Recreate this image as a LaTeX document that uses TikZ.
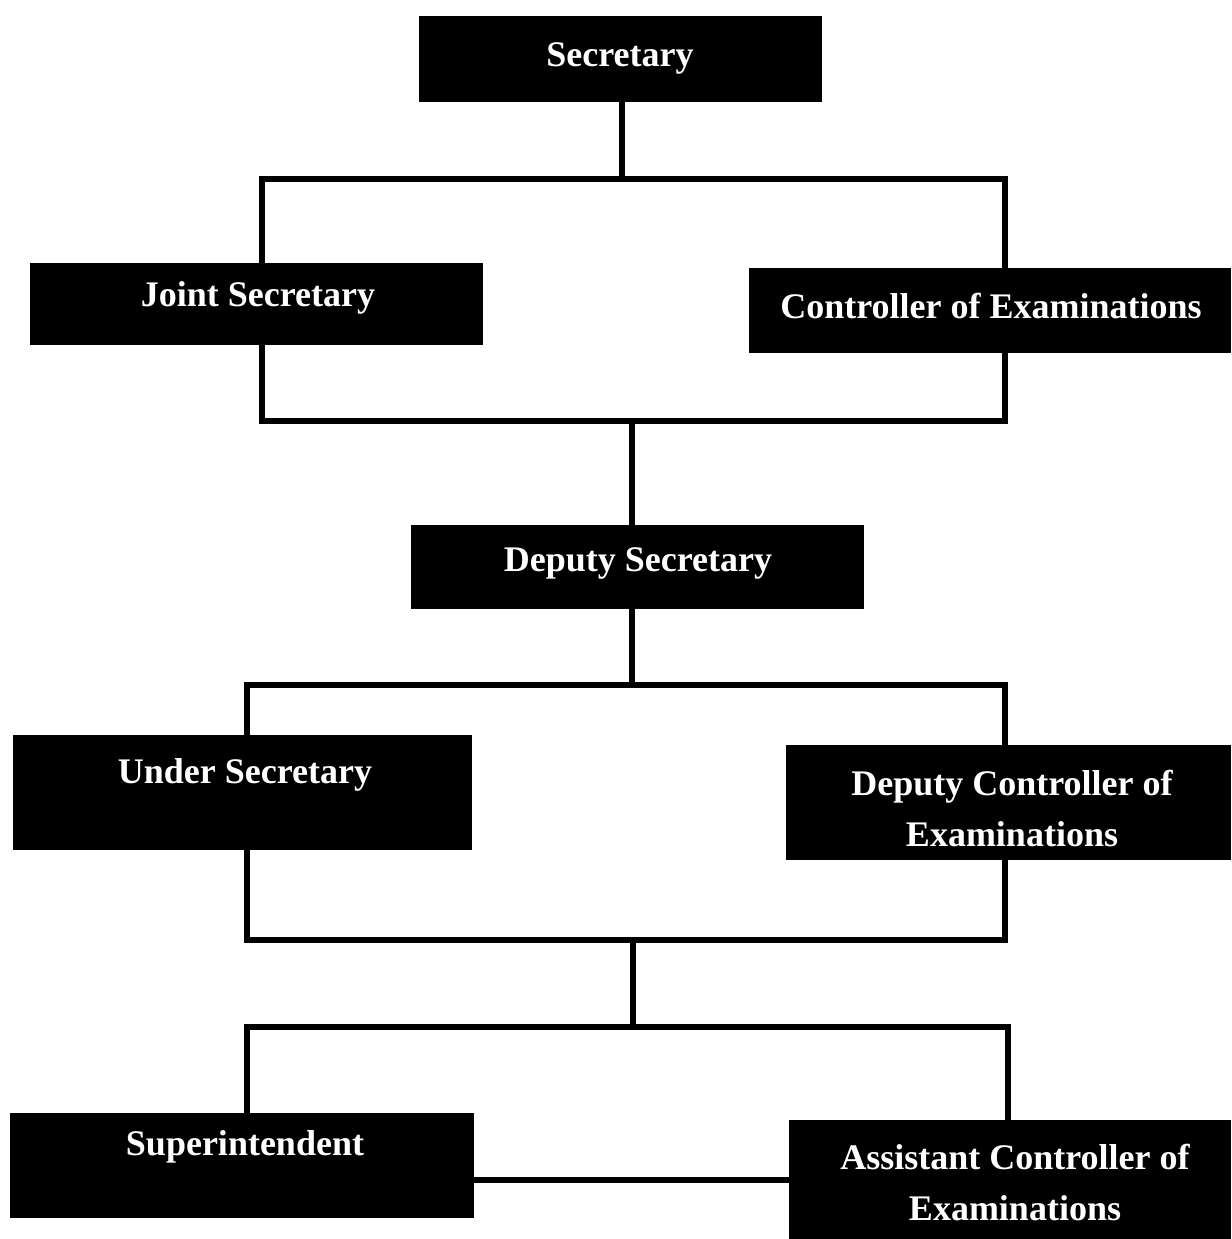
\documentclass[tikz,border=0pt]{standalone}
\usepackage{fontspec}
\setmainfont{Liberation Serif}
\begin{document}
\begin{tikzpicture}[x=1pt,y=-1pt,
  box/.style={fill=black,draw=none,inner sep=0pt},
  lbl/.style={text=white,font=\bfseries\fontsize{36}{51}\selectfont,align=center,inner sep=0pt},
  conn/.style={line width=5.5pt,draw=black,line cap=rect}]
\useasboundingbox (0,0) rectangle (1231,1239);
\fill[white] (0,0) rectangle (1231,1239);
% connector coordinates
\coordinate (l1tl) at (262,179);
\coordinate (l1br) at (1005,421);
\coordinate (l1top) at (622,179);
\coordinate (l1bot) at (632,421);
\coordinate (l2tl) at (247,685);
\coordinate (l2br) at (1005,940);
\coordinate (l2top) at (632,685);
\coordinate (l2bot) at (633,940);
\coordinate (l3top) at (633,1027);
\coordinate (l3l) at (247,1027);
\coordinate (l3r) at (1008,1027);
% connectors
\draw[conn] (l1tl) rectangle (l1br);
\draw[conn] (l2tl) rectangle (l2br);
\draw[conn] (l2bot) -- (l3top);
\draw[conn] (247,1120) -- (l3l) -- (l3r) -- (1008,1125);
% boxes
\node[box,minimum width=403pt,minimum height=86pt] (sec) at (620.5,59) {};
\node[box,minimum width=453pt,minimum height=82pt] (js) at (256.5,304) {};
\node[box,minimum width=482pt,minimum height=85pt] (coe) at (990,310.5) {};
\node[box,minimum width=453pt,minimum height=84pt] (ds) at (637.5,567) {};
\node[box,minimum width=459pt,minimum height=115pt] (us) at (242.5,792.5) {};
\node[box,minimum width=445pt,minimum height=115pt] (dcoe) at (1008.5,802.5) {};
\node[box,minimum width=464pt,minimum height=105pt] (sup) at (242,1165.5) {};
\node[box,minimum width=442pt,minimum height=119pt] (acoe) at (1010,1179.5) {};
\draw[conn,line cap=butt] (l1top |- sec.south) -- (l1top);
\draw[conn,line cap=butt] (l1bot) -- (l1bot |- ds.north);
\draw[conn,line cap=butt] (l2top |- ds.south) -- (l2top);
\draw[conn,line cap=butt] (sup.east |- 0,1180) -- (acoe.west |- 0,1180);
% labels
\node[lbl] (tsec) at (620,58) {Secretary};
\node[lbl] (tjs) at (258,298) {Joint Secretary};
\node[lbl] (tcoe) at (991,306) {Controller of Examinations};
\node[lbl] (tds) at (638,563) {Deputy Secretary};
\node[lbl] (tus) at (245,775) {Under Secretary};
\node[lbl] (tdcoe) at (1012,808) {Deputy Controller of\\Examinations};
\node[lbl] (tsup) at (245,1147) {Superintendent};
\node[lbl] (tacoe) at (1015,1182) {Assistant Controller of\\Examinations};
\end{tikzpicture}
\end{document}
